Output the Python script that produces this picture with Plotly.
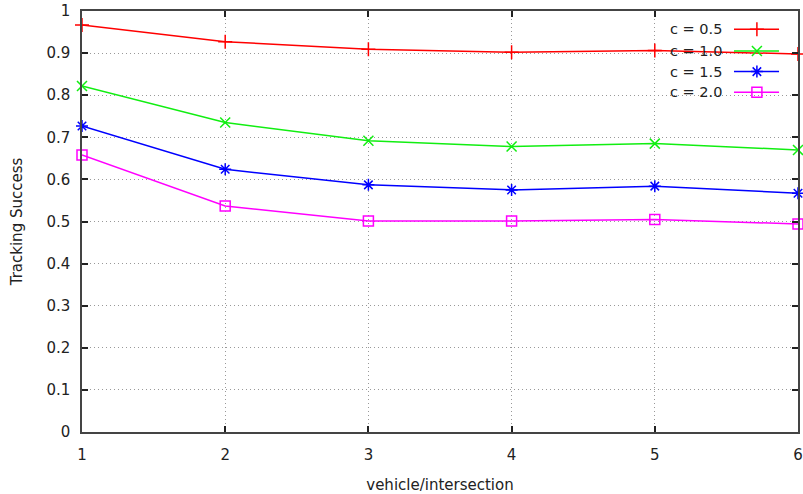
import plotly.graph_objects as go

x_vals = [1, 2, 3, 4, 5, 6]
c05 = [0.967, 0.927, 0.909, 0.902, 0.906, 0.898]
c10 = [0.822, 0.735, 0.692, 0.678, 0.685, 0.670]
c15 = [0.727, 0.624, 0.587, 0.575, 0.584, 0.567]
c20 = [0.658, 0.537, 0.501, 0.501, 0.505, 0.494]
names = ["c = 0.5", "c = 1.0", "c = 1.5", "c = 2.0"]
colors = ["#ff0000", "#11ee11", "#0000ff", "#ff00ff"]
symbols = ["cross-thin", "x-thin", "asterisk-open", "square-open"]
series = [c05, c10, c15, c20]

x_ticks = [1, 2, 3, 4, 5, 6]
y_ticks = [0, 0.1, 0.2, 0.3, 0.4, 0.5, 0.6, 0.7, 0.8, 0.9, 1]
y_labels = ["0", "0.1", "0.2", "0.3", "0.4", "0.5", "0.6", "0.7", "0.8", "0.9", "1"]

FONT = "DejaVu Sans"
TXT = "#222222"
fig = go.Figure()
for name, ys, col, sym in zip(names, series, colors, symbols):
    fig.add_trace(go.Scatter(
        x=x_vals, y=ys, mode="lines+markers", name=name,
        line=dict(color=col, width=1.5),
        marker=dict(symbol=sym, size=10, color=col, line=dict(color=col, width=1.5)),
        showlegend=False, cliponaxis=False,
    ))

# gnuplot-style key: text right-aligned, sample on the right
leg_y = [0.9565, 0.905, 0.856, 0.807]
for name, col, sym, ly in zip(names, colors, symbols, leg_y):
    fig.add_trace(go.Scatter(
        x=[0.9106, 0.9426, 0.9735], y=[ly, ly, ly], xaxis="x2", yaxis="y2",
        mode="lines", line=dict(color=col, width=1.5), showlegend=False, hoverinfo="skip"))
    fig.add_trace(go.Scatter(
        x=[0.9426], y=[ly], xaxis="x2", yaxis="y2", mode="markers",
        marker=dict(symbol=sym, size=10, color=col, line=dict(color=col, width=1.5)),
        showlegend=False, hoverinfo="skip"))
    fig.add_annotation(xref="x2", yref="y2", x=0.8966, y=ly, text=name, showarrow=False,
                       xanchor="right", yanchor="middle",
                       font=dict(family=FONT, size=14.5, color=TXT))

axis_common = dict(showline=True, linecolor="#444444", linewidth=1.5, mirror="ticks",
                   ticks="inside", ticklen=6, tickcolor="#222222", tickwidth=1.5,
                   showgrid=True, gridcolor="#999999", griddash="1px,3px", gridwidth=1,
                   zeroline=False, automargin=False,
                   tickfont=dict(family=FONT, size=15, color=TXT))

fig.update_layout(
    width=803, height=494, paper_bgcolor="white", plot_bgcolor="white",
    margin=dict(l=82, r=5, t=11, b=62),
    xaxis=dict(range=[1, 6], tickvals=x_ticks, ticklabelstandoff=8, **axis_common,
               title=dict(text="vehicle/intersection", font=dict(family=FONT, size=15, color=TXT), standoff=17)),
    yaxis=dict(range=[0, 1], tickvals=y_ticks, ticktext=y_labels, ticklabelstandoff=7, **axis_common,
               title=dict(text="Tracking Success", font=dict(family=FONT, size=15, color=TXT), standoff=20)),
    xaxis2=dict(range=[0, 1], overlaying="x", visible=False, fixedrange=True),
    yaxis2=dict(range=[0, 1], overlaying="y", visible=False, fixedrange=True),
    showlegend=False,
)
fig.write_html("out.html", config={"displayModeBar": False},
               post_script="document.body.style.margin='0';document.body.style.overflow='hidden';")
